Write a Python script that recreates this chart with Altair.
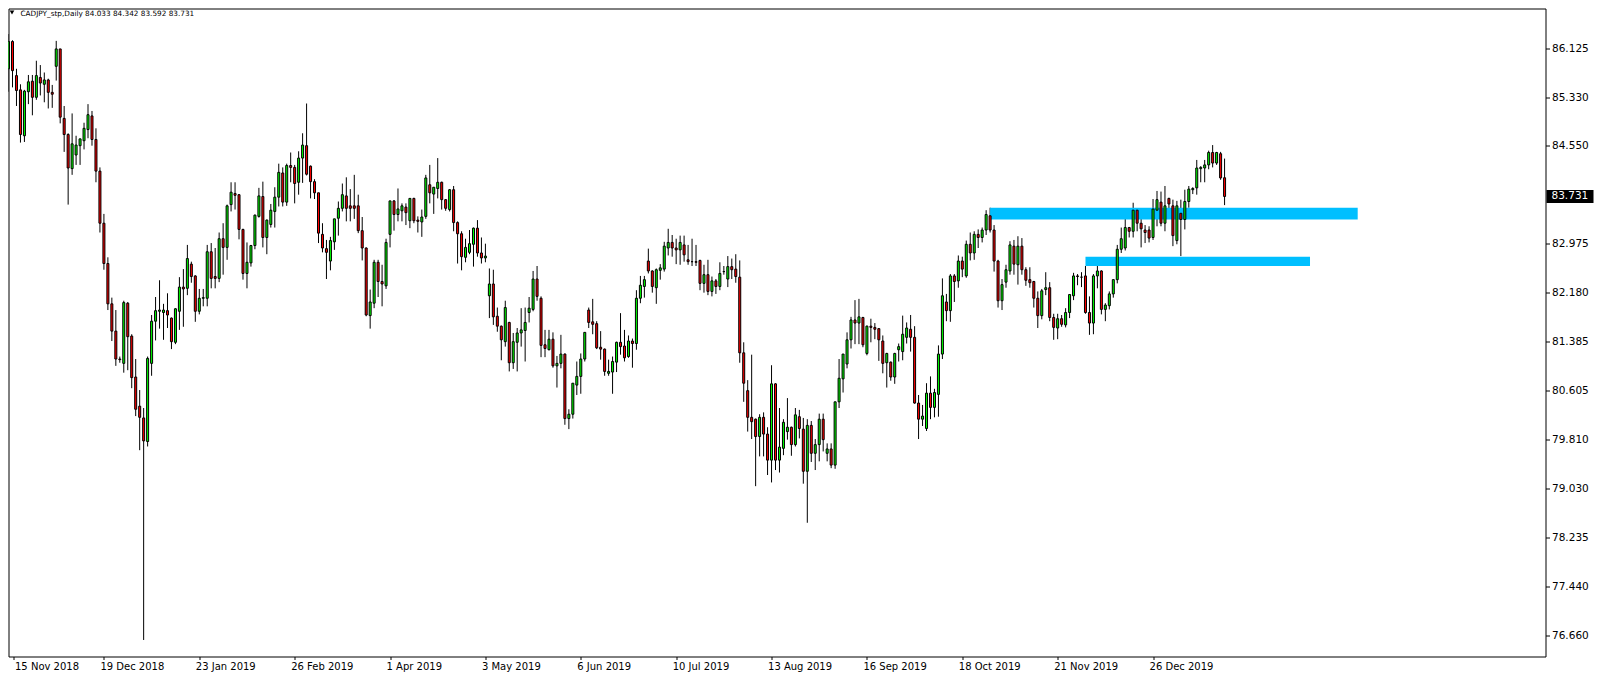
import altair as alt
import pandas as pd

opens = [85.79,86.23,85.68,85.45,84.71,85.42,85.59,85.33,85.65,85.54,
85.61,85.41,85.83,86.11,84.99,84.73,84.18,84.40,84.55,84.63,
84.81,85.03,84.65,84.14,83.30,82.65,82.00,81.56,81.11,81.04,
82.01,81.48,80.82,80.35,80.16,79.78,81.04,81.72,81.88,81.86,
81.89,81.77,81.38,81.88,82.27,82.25,82.64,82.45,81.88,82.09,
82.09,82.84,82.44,82.41,83.05,82.91,83.60,83.78,83.76,83.20,
82.49,82.66,82.94,83.41,83.73,83.07,83.28,83.49,83.72,84.11,
83.64,84.23,84.20,83.96,84.35,84.55,84.22,83.97,83.79,83.12,
82.89,82.69,83.00,83.38,83.54,83.74,83.58,83.58,83.58,83.18,
82.90,81.81,82.01,82.67,82.36,82.29,83.12,83.66,83.44,83.50,
83.56,83.34,83.70,83.35,83.32,83.41,83.92,83.77,83.86,83.96,
83.68,83.52,83.84,83.31,83.13,82.75,82.83,82.96,83.22,82.82,
82.74,82.13,82.32,81.80,81.64,81.39,81.70,81.05,81.38,81.53,
81.57,81.86,81.91,82.40,82.09,81.34,81.26,81.43,81.00,81.04,
81.19,80.15,80.22,80.69,80.83,81.11,81.90,81.71,81.68,81.30,
81.27,80.88,80.90,81.06,81.38,81.32,81.15,81.40,81.36,82.09,
82.28,82.69,82.53,82.26,82.54,82.56,82.90,82.99,82.90,82.87,
82.95,82.71,82.68,82.68,82.70,82.33,82.47,82.20,82.37,82.28,
82.52,82.40,82.60,82.56,82.43,81.21,80.60,80.17,80.14,79.86,
80.17,79.90,79.48,80.71,79.48,79.67,79.94,80.01,79.73,80.18,
79.98,79.30,80.04,79.59,79.73,80.14,79.59,79.66,79.40,80.42,
80.79,81.03,81.42,81.74,81.69,81.78,81.20,81.64,81.62,81.60,
81.40,81.05,81.06,80.82,81.26,81.23,81.46,81.59,81.46,80.40,
80.14,79.99,80.56,80.33,80.54,81.19,82.03,81.89,82.45,82.37,
82.69,82.45,82.96,82.82,83.12,83.07,83.19,83.42,83.19,82.69,
82.05,82.35,82.53,82.93,82.63,82.93,82.55,82.39,82.36,82.09,
81.81,82.23,82.26,81.78,81.61,81.76,81.66,81.86,82.13,82.45,
82.43,82.45,81.86,81.69,82.45,82.53,81.91,81.97,82.16,82.39,
82.88,82.90,83.23,83.17,83.51,83.30,83.19,83.19,83.07,83.51,
83.64,83.30,83.70,83.58,83.02,83.46,83.36,83.65,83.84,83.87,
84.18,84.19,84.24,84.44,84.27,84.42,84.033]

highs = [86.35,86.25,85.79,85.54,85.45,85.69,85.69,85.92,85.85,85.73,
85.63,85.53,86.24,86.11,85.19,84.75,85.07,84.71,84.66,84.92,
85.22,85.11,84.83,84.20,83.45,82.75,82.10,81.90,81.15,82.05,
82.03,81.51,81.11,80.61,80.32,81.15,81.82,82.11,82.38,82.00,
82.17,81.78,81.93,82.43,82.56,82.95,82.68,82.46,82.24,82.24,
82.95,82.98,82.90,83.15,83.30,83.60,83.96,83.96,83.77,83.21,
82.99,82.95,83.44,83.87,83.97,83.36,83.61,83.88,84.26,84.20,
84.26,84.44,84.24,84.46,84.75,85.23,84.23,84.01,83.79,83.30,
83.03,83.08,83.37,83.65,83.94,84.04,83.85,84.08,83.76,83.40,
82.91,82.23,82.71,82.71,82.63,83.05,83.66,83.67,83.86,83.62,
83.62,83.70,83.71,83.41,83.52,84.08,84.24,83.88,84.35,83.97,
83.69,83.85,83.90,83.33,83.17,83.05,83.19,83.23,83.35,83.07,
82.97,82.57,82.55,81.94,81.65,82.05,81.71,81.53,81.61,81.93,
81.94,82.11,82.53,82.61,82.12,81.58,81.58,81.54,81.16,81.50,
81.20,80.30,80.72,81.07,81.20,81.54,81.94,82.08,81.72,81.56,
81.28,81.10,81.15,81.39,81.85,81.58,81.49,81.44,82.22,82.45,
82.45,82.89,82.54,82.57,82.64,83.00,83.21,83.11,83.05,83.10,
83.10,82.95,83.05,82.95,82.71,82.63,82.71,82.44,82.40,82.67,
82.61,82.77,82.73,82.80,82.70,81.38,80.77,81.18,80.15,80.22,
80.25,80.01,81.01,80.72,80.32,80.14,80.48,80.02,80.32,80.29,
80.16,80.14,80.11,79.82,80.23,80.23,79.75,79.75,80.42,81.11,
81.19,81.54,81.79,82.06,82.08,81.79,81.65,81.76,81.69,81.61,
81.49,81.21,81.07,81.21,81.36,81.81,81.70,81.82,81.64,80.53,
80.37,80.72,80.83,80.63,81.33,82.41,82.16,82.48,82.48,82.78,
82.76,83.02,83.15,83.17,83.20,83.23,83.51,83.55,83.27,82.71,
82.40,82.63,83.01,83.03,83.09,83.06,82.59,82.59,82.37,82.20,
82.24,82.51,82.35,81.84,81.84,81.82,81.93,82.15,82.50,82.48,
82.51,82.61,82.12,82.48,82.75,82.54,82.01,82.20,82.39,82.95,
83.23,83.44,83.24,83.63,83.52,83.39,83.27,83.25,83.69,83.82,
83.81,83.90,83.71,83.68,83.66,83.68,83.84,83.90,83.88,84.32,
84.22,84.32,84.47,84.56,84.45,84.45,84.342]

lows = [85.42,85.49,85.19,84.60,84.61,85.22,85.04,85.29,85.36,85.25,
85.15,85.16,85.60,84.91,84.45,83.60,84.08,84.24,84.24,84.49,
84.67,84.55,83.96,83.15,82.55,81.90,81.40,81.00,81.05,80.89,
80.93,80.64,80.19,79.64,76.58,79.70,80.84,81.41,81.60,81.42,
81.61,81.27,81.35,81.58,81.63,82.14,82.34,81.71,81.83,81.96,
81.96,82.25,82.25,82.35,82.47,82.71,83.49,83.52,83.04,82.39,
82.25,82.60,82.88,83.39,82.91,82.80,83.23,83.23,83.57,83.57,
83.58,83.96,83.62,83.76,83.95,84.07,83.70,83.69,82.98,82.83,
82.40,82.54,82.87,83.10,83.49,83.33,83.33,83.37,83.14,82.70,
81.80,81.60,81.93,82.11,81.96,82.24,82.91,83.18,83.33,83.33,
83.27,83.22,83.30,83.15,83.08,83.37,83.62,83.45,83.70,83.52,
83.50,83.49,83.17,82.65,82.54,82.67,82.80,82.60,82.76,82.65,
82.67,81.77,81.66,81.55,81.09,81.31,80.91,80.95,80.91,81.31,
81.07,81.70,81.88,82.05,81.14,81.14,81.25,80.97,80.65,80.96,
80.05,79.98,80.15,80.53,80.55,81.07,81.61,81.51,81.27,81.10,
80.84,80.84,80.55,80.90,81.18,81.07,81.13,80.97,81.26,82.01,
82.10,82.49,82.18,82.00,82.39,82.52,82.78,82.76,82.64,82.63,
82.68,82.63,82.61,82.61,82.22,82.18,82.14,82.12,82.16,82.22,
82.47,82.27,82.40,82.34,81.05,80.42,79.94,79.82,79.06,79.54,
79.54,79.24,79.12,79.32,79.28,79.56,79.81,79.55,79.70,79.83,
79.10,78.47,79.45,79.32,79.46,79.62,79.46,79.35,79.34,80.32,
80.57,80.96,81.28,81.35,81.35,81.30,81.17,81.38,81.43,81.08,
80.88,80.65,80.76,80.71,81.07,81.09,81.36,81.23,80.39,79.82,
80.03,79.95,80.14,80.17,80.18,81.11,81.72,81.71,82.03,82.26,
82.43,82.42,82.70,82.71,82.90,82.99,83.11,83.15,82.52,81.94,
81.90,82.26,82.47,82.47,82.31,82.47,82.29,82.26,81.94,81.61,
81.75,82.14,81.72,81.42,81.43,81.63,81.62,81.77,82.06,82.30,
82.27,81.84,81.50,81.51,82.25,81.83,81.72,81.91,82.10,82.33,
82.82,82.86,83.07,83.07,83.17,82.91,82.98,82.99,83.03,83.25,
83.25,83.17,83.38,82.93,82.96,82.77,83.20,83.55,83.77,83.76,
83.96,83.96,84.17,84.20,84.24,84.00,83.592]

closes = [86.23,85.76,85.44,84.73,85.43,85.58,85.33,85.68,85.56,85.61,
85.41,85.38,86.11,85.01,84.73,84.19,84.58,84.56,84.66,84.83,
85.05,84.65,84.14,83.30,82.65,82.00,81.56,81.11,81.10,82.02,
81.47,80.81,80.30,80.17,79.79,81.12,81.72,81.89,81.90,81.90,
81.82,81.39,81.92,82.27,82.24,82.73,82.44,81.88,82.09,82.10,
82.84,82.41,82.41,83.05,82.91,83.58,83.80,83.75,83.20,82.49,
82.67,82.94,83.43,83.74,83.07,83.35,83.51,83.72,84.12,83.64,
84.23,84.20,83.94,84.35,84.56,84.09,83.97,83.79,83.14,82.90,
82.83,83.02,83.37,83.54,83.76,83.54,83.54,83.54,83.18,82.90,
81.82,82.03,82.67,82.36,82.32,82.99,83.66,83.44,83.53,83.58,
83.47,83.70,83.34,83.33,83.40,84.03,83.79,83.88,83.96,83.68,
83.54,83.84,83.31,83.13,82.76,82.91,82.97,83.22,82.82,82.74,
82.77,82.32,81.79,81.64,81.42,81.94,81.05,81.39,81.53,81.58,
81.70,81.93,82.40,82.12,81.33,81.28,81.43,81.00,81.04,81.19,
80.15,80.22,80.72,80.83,81.11,81.54,81.70,81.67,81.29,81.27,
80.91,80.91,81.07,81.38,81.31,81.13,81.40,81.36,82.09,82.30,
82.39,82.53,82.28,82.55,82.58,82.93,82.99,82.90,82.87,82.99,
82.79,82.68,82.68,82.67,82.33,82.47,82.20,82.37,82.28,82.49,
82.52,82.60,82.55,82.44,81.21,80.72,80.17,80.10,79.86,80.17,
79.90,79.48,80.71,79.48,79.69,80.09,80.01,79.73,80.21,79.99,
79.30,80.04,79.59,79.73,80.14,79.81,79.66,79.40,80.42,80.80,
81.19,81.42,81.74,81.69,81.79,81.34,81.64,81.62,81.59,81.42,
81.04,81.20,80.82,81.20,81.31,81.51,81.61,81.46,80.40,80.14,
80.19,80.56,80.33,80.57,81.19,82.13,81.89,82.45,82.36,82.69,
82.56,82.96,82.82,83.12,83.07,83.19,83.44,83.19,82.69,82.05,
82.31,82.55,82.95,82.64,82.93,82.55,82.38,82.34,82.09,81.81,
82.21,82.26,81.78,81.62,81.76,81.67,81.86,82.15,82.45,82.44,
82.43,81.86,81.69,82.45,82.53,81.91,81.98,82.16,82.39,82.88,
83.05,83.23,83.17,83.51,83.30,83.21,83.15,83.06,83.53,83.68,
83.30,83.58,83.61,83.10,83.58,83.36,83.65,83.85,83.86,84.19,
84.20,84.24,84.44,84.27,84.44,84.03,83.731]

date_labels = ["15 Nov 2018", "19 Dec 2018", "23 Jan 2019", "26 Feb 2019", "1 Apr 2019",
               "3 May 2019", "6 Jun 2019", "10 Jul 2019", "13 Aug 2019", "16 Sep 2019",
               "18 Oct 2019", "21 Nov 2019", "26 Dec 2019"]
W = 1537
H = 648
x_dom = [1.25, 1.25 + W / 4.0]
y_dom = [76.3135, 86.762]

# first label sits at the left edge of the window, the others at their bars
date_bars = [x_dom[0], 24, 48, 72, 96, 120, 144, 168, 192, 216, 240, 264, 288]

price_ticks = [86.125, 85.330, 84.550, 82.975, 82.180, 81.385, 80.605,
               79.810, 79.030, 78.235, 77.440, 76.660]
last_price = 83.731
title_text = "CADJPY_stp,Daily  84.033 84.342 83.592 83.731"

zone_start = [247, 271]
zone_end = [339.5, 327.5]
zone_top = [83.55, 82.76]
zone_bottom = [83.36, 82.61]

df = pd.DataFrame({"i": list(range(len(opens))), "open": opens, "high": highs,
                   "low": lows, "close": closes})
df["dir"] = ["up" if c >= o else "down" for o, c in zip(opens, closes)]

xs = alt.Scale(domain=x_dom, nice=False, zero=False)
ys = alt.Scale(domain=y_dom, nice=False, zero=False)

label_expr = "[" + ",".join("'%s'" % s for s in date_labels) + "][round(datum.value/24)]"

x_axis = alt.Axis(values=date_bars, labelExpr=label_expr, orient="bottom",
                  labelAlign="left", labelBaseline="top", labelPadding=2,
                  labelOffset={"condition": {"test": "datum.value < 12", "value": 1},
                               "value": -4},
                  tickSize=3, tickColor="black", domain=False, grid=False,
                  labelFlush=False, labelOverlap=False, labelBound=False,
                  labelColor="black", labelFont="DejaVu Sans", labelFontSize=10,
                  title=None)
y_axis = alt.Axis(values=price_ticks, format=".3f", orient="right",
                  tickSize=4, tickColor="black", domain=False, grid=False,
                  labelPadding=2, labelColor="black", labelFont="DejaVu Sans",
                  labelFontSize=10.5, labelFlush=False, labelOverlap=False,
                  title=None)

base = alt.Chart(df)

wicks = base.mark_rule(color="black", strokeWidth=1, clip=True).encode(
    x=alt.X("i:Q", scale=xs, axis=x_axis),
    y=alt.Y("low:Q", scale=ys, axis=y_axis),
    y2="high:Q",
)

bodies = base.mark_bar(size=2, stroke="black", strokeWidth=1, clip=True).encode(
    x=alt.X("i:Q", scale=xs, axis=x_axis),
    y=alt.Y("open:Q", scale=ys, axis=y_axis),
    y2="close:Q",
    color=alt.Color("dir:N", scale=alt.Scale(domain=["up", "down"],
                                             range=["#00ff00", "#ff0000"]), legend=None),
)

zones_df = pd.DataFrame({"x1": zone_start, "x2": zone_end, "top": zone_top, "bot": zone_bottom})
zones = alt.Chart(zones_df).mark_rect(color="#00bfff", opacity=1).encode(
    x=alt.X("x1:Q", scale=xs, axis=x_axis), x2="x2:Q",
    y=alt.Y("top:Q", scale=ys, axis=y_axis), y2="bot:Q",
)

ppx = (y_dom[1] - y_dom[0]) / H
box_df = pd.DataFrame({"p": [last_price], "hi": [last_price + 6.5 * ppx],
                       "lo": [last_price - 6.5 * ppx], "t": ["%.3f" % last_price]})
box = alt.Chart(box_df).mark_rect(color="black", clip=False).encode(
    x=alt.value(W + 1), x2=alt.value(W + 48),
    y=alt.Y("hi:Q", scale=ys, axis=y_axis), y2="lo:Q",
)
box_text = alt.Chart(box_df).mark_text(align="left", baseline="middle", color="white",
                                       font="DejaVu Sans", fontSize=10.5, clip=False).encode(
    x=alt.value(W + 6), y=alt.Y("p:Q", scale=ys, axis=y_axis), text="t:N",
)

title_df = pd.DataFrame({"t": [title_text]})
title = alt.Chart(title_df).mark_text(align="left", baseline="middle", color="black",
                                      font="DejaVu Sans", fontSize=7.3).encode(
    x=alt.value(12), y=alt.value(5), text="t:N",
)
tri = alt.Chart(title_df).mark_point(shape="triangle-down", filled=True, color="black",
                                     size=22, opacity=1).encode(
    x=alt.value(3.5), y=alt.value(4),
)

chart = alt.layer(wicks, zones, bodies, box, box_text, title, tri).properties(
    width=W, height=H,
    padding={"left": 0.5, "top": 0.5, "right": 0, "bottom": 0},
    background="white",
).configure_view(stroke="black", strokeWidth=1)

chart.save("out.html", embed_options={"renderer": "svg", "actions": False})
